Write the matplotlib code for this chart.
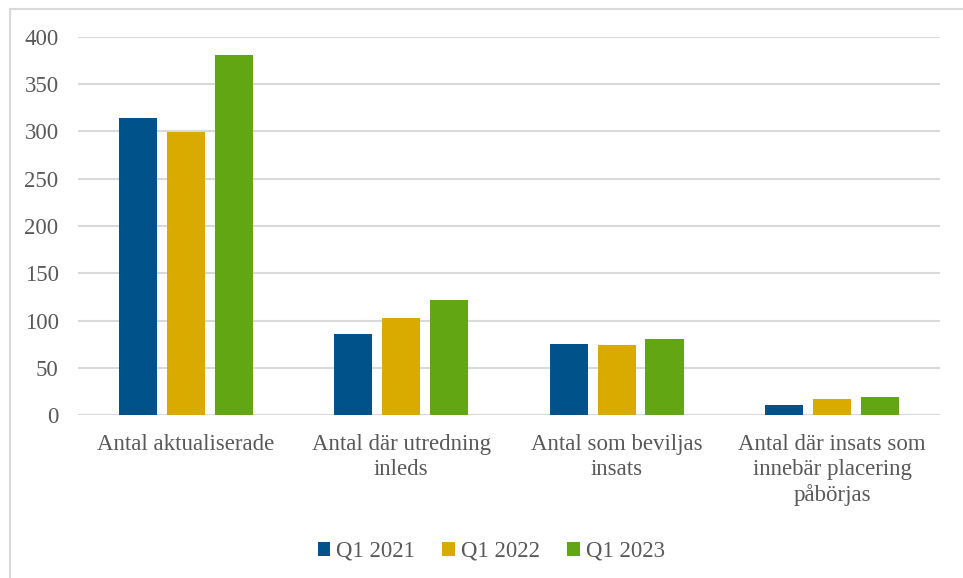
import matplotlib.pyplot as plt
import numpy as np
from matplotlib.patches import Rectangle

kategorier = [
    "Antal aktualiserade",
    "Antal där utredning\ninleds",
    "Antal som beviljas\ninsats",
    "Antal där insats som\ninnebär placering\npåbörjas",
]
serier = ["Q1 2021", "Q1 2022", "Q1 2023"]
q1_2021 = [314, 86, 75, 11]
q1_2022 = [299, 103, 74, 17]
q1_2023 = [381, 122, 80, 19]
farger = ["#00538a", "#d9aa00", "#63a614"]

plt.rcParams["font.family"] = ["Liberation Serif", "DejaVu Serif"]
textfarg = "#595959"

fig = plt.figure(figsize=(9.63, 5.78), dpi=100)
ax = fig.add_axes([0.081, 0.282, 0.895, 0.654])

x = np.arange(len(kategorier))
bredd = 0.177
steg = 0.222
for i, (namn, varden) in enumerate(zip(serier, [q1_2021, q1_2022, q1_2023])):
    ax.bar(x + (i - 1) * steg, varden, bredd, color=farger[i], label=namn, zorder=3)

ax.set_xlim(-0.5, len(kategorier) - 0.5)
ax.set_ylim(0, 400)
ax.set_yticks(range(0, 401, 50))
ax.set_xticks(x)
ax.set_xticklabels(kategorier, fontsize=16.5, color=textfarg, linespacing=1.22)
ax.tick_params(axis="y", labelsize=16.5, labelcolor=textfarg, length=0, pad=14)
ax.tick_params(axis="x", length=0, pad=14)
ax.grid(axis="y", color="#d9d9d9", linewidth=1.5, zorder=0)
for s in ax.spines.values():
    s.set_visible(False)

fig.legend(loc="center", bbox_to_anchor=(0.51, 0.046), ncol=3, frameon=False,
           fontsize=16.5, labelcolor=textfarg, handlelength=0.55, handleheight=0.55,
           handletextpad=0.25, columnspacing=1.2)

# ram runt diagrammet (beskuren till höger och nedtill)
fig.patches.append(Rectangle((10 / 963, -0.1), 1.2, 1 - 9 / 578 + 0.1,
                             transform=fig.transFigure, fill=False,
                             edgecolor="#d9d9d9", linewidth=1.5))

fig.savefig("out.png", dpi=100)
